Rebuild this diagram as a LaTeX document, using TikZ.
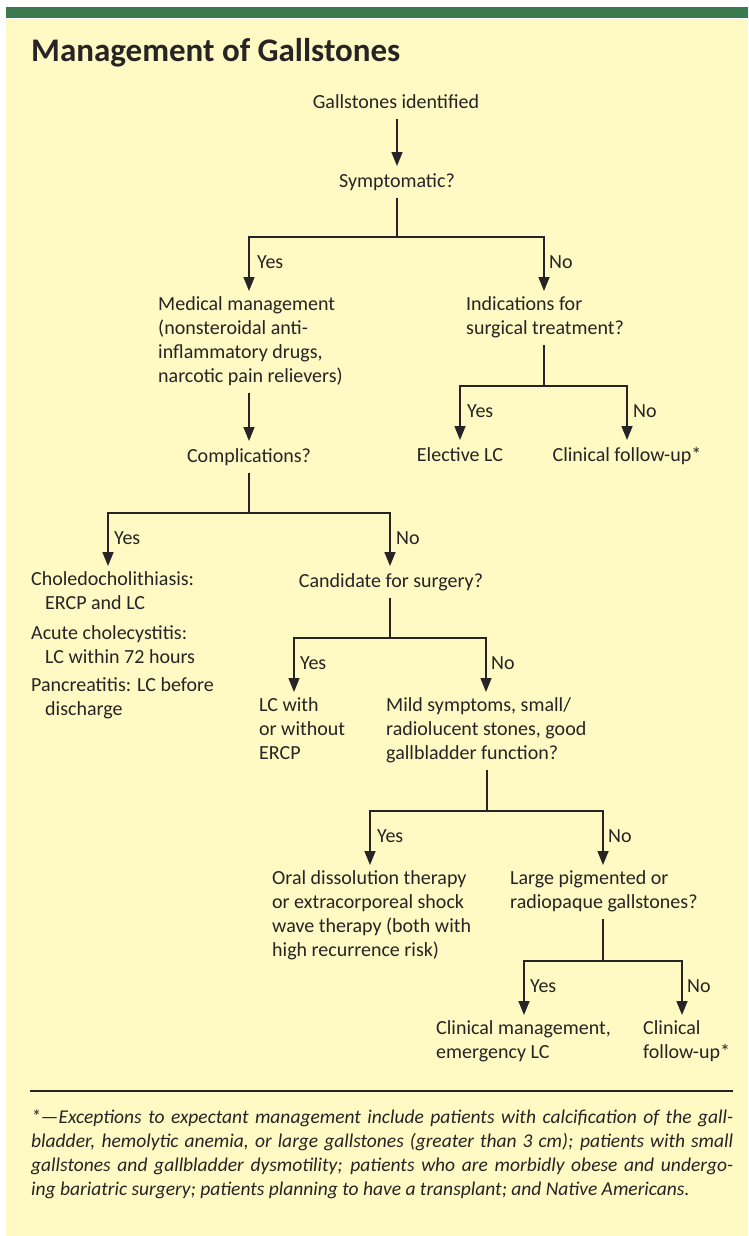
\documentclass[tikz,border=0pt]{standalone}
\usepackage{fontspec}
\setmainfont{Carlito}
\usetikzlibrary{arrows.meta}
\definecolor{bgyellow}{RGB}{255,249,196}
\definecolor{bargreen}{RGB}{59,122,79}
\definecolor{ink}{RGB}{38,36,36}
\newcommand\bodyfont{\fontsize{20pt}{24pt}\selectfont}
\newcommand\notefont{\fontsize{19.5pt}{24pt}\selectfont\itshape}
\newcommand\fixstrut{\rule[-6pt]{0pt}{22pt}}
\tikzset{
  txt/.style={inner xsep=0pt, inner ysep=5pt, align=left, font=\bodyfont, text=ink,
    execute at begin node=\fixstrut, execute at end node=\fixstrut},
  ctxt/.style={txt, align=center, anchor=north},
  ltxt/.style={txt, anchor=north west},
  lbl/.style={inner sep=0pt, font=\bodyfont, text=ink, anchor=base west},
  conn/.style={draw=ink, line width=1.5pt},
  arr/.style={conn, -{Triangle[length=14pt,width=11pt]}},
  note/.style={inner sep=0pt, font=\notefont, text=ink, anchor=base west},
}
\begin{document}
\begin{tikzpicture}[x=1pt,y=-1pt]
\useasboundingbox (0,0) rectangle (748,1236);
\fill[white] (0,0) rectangle (748,1236);
\fill[bgyellow] (6,19) rectangle (748,1236);
\fill[bargreen] (6,7) rectangle (748,18);

\node[inner sep=0pt, anchor=base west, text=ink, font=\fontsize{33pt}{36pt}\selectfont\bfseries] (title) at (31,62) {Management of Gallstones};

% nodes
\node[ctxt] (gi) at (396,87) {Gallstones identified};
\node[ctxt] (symp) at (397,166) {Symptomatic?};
\node[ltxt] (med) at (158,291) {Medical management\\(nonsteroidal anti-\\inflammatory drugs,\\narcotic pain relievers)};
\node[ltxt] (ind) at (466,291) {Indications for\\surgical treatment?};
\node[ctxt] (elec) at (460,440) {Elective LC};
\node[ctxt] (cfu1) at (627,440) {Clinical follow-up*};
\node[ctxt] (compl) at (249,441) {Complications?};
\node[ltxt] (chol) at (31,566) {Choledocholithiasis:\\\hspace*{14pt}ERCP and LC\\[6pt]Acute cholecystitis:\\\hspace*{14pt}LC within 72 hours\\[4pt]Pancreatitis: LC before\\\hspace*{14pt}discharge};
\node[ctxt] (cand) at (391,566) {Candidate for surgery?};
\node[ltxt] (lcw) at (259,692) {LC with\\or without\\ERCP};
\node[ltxt] (mild) at (386,692) {Mild symptoms, small/\\radiolucent stones, good\\gallbladder function?};
\node[ltxt] (oral) at (272,865) {Oral dissolution therapy\\or extracorporeal shock\\wave therapy (both with\\high recurrence risk)};
\node[ltxt] (large) at (510,865) {Large pigmented or\\radiopaque gallstones?};
\node[ltxt] (cmgmt) at (436,1015) {Clinical management,\\emergency LC};
\node[ltxt] (cfu2) at (643,1015) {Clinical\\follow-up*};

% junction coordinates
\coordinate (j1) at (397,237); \coordinate (j1L) at (249,237); \coordinate (j1R) at (544,237);
\coordinate (j2) at (544,386); \coordinate (j2L) at (460,386); \coordinate (j2R) at (627,386);
\coordinate (j3) at (249,513); \coordinate (j3L) at (108,513); \coordinate (j3R) at (390,513);
\coordinate (j4) at (390,638); \coordinate (j4L) at (294,638); \coordinate (j4R) at (486,638);
\coordinate (j5) at (487,811); \coordinate (j5L) at (370,811); \coordinate (j5R) at (603,811);
\coordinate (j6) at (603,961); \coordinate (j6L) at (524,961); \coordinate (j6R) at (682,961);

% connectors
\draw[arr] (gi.south -| symp.north) -- (symp.north);
\draw[arr] (symp.south -| j1) |- (j1L) -- (med.north -| j1L);
\draw[arr] (symp.south -| j1) |- (j1R) -- (ind.north -| j1R);
\draw[arr] (ind.south -| j2) |- (j2L) -- (elec.north -| j2L);
\draw[arr] (ind.south -| j2) |- (j2R) -- (cfu1.north -| j2R);
\draw[arr] (med.south -| compl.north) -- (compl.north);
\draw[arr] (compl.south -| j3) |- (j3L) -- (chol.north -| j3L);
\draw[arr] (compl.south -| j3) |- (j3R) -- (cand.north -| j3R);
\draw[arr] (cand.south -| j4) |- (j4L) -- (lcw.north -| j4L);
\draw[arr] (cand.south -| j4) |- (j4R) -- (mild.north -| j4R);
\draw[arr] (mild.south -| j5) |- (j5L) -- (oral.north -| j5L);
\draw[arr] (mild.south -| j5) |- (j5R) -- (large.north -| j5R);
\draw[arr] (large.south -| j6) |- (j6L) -- (cmgmt.north -| j6L);
\draw[arr] (large.south -| j6) |- (j6R) -- (cfu2.north -| j6R);

% labels
\node[lbl] (y1) at (257,268) {Yes};
\node[lbl] (n1) at (549,268) {No};
\node[lbl] (y2) at (467,417) {Yes};
\node[lbl] (n2) at (633,417) {No};
\node[lbl] (y3) at (114,544) {Yes};
\node[lbl] (n3) at (396,544) {No};
\node[lbl] (y4) at (300,669) {Yes};
\node[lbl] (n4) at (491,669) {No};
\node[lbl] (y5) at (377,842) {Yes};
\node[lbl] (n5) at (608,842) {No};
\node[lbl] (y6) at (530,992) {Yes};
\node[lbl] (n6) at (687,992) {No};

% footnote
\draw[draw=ink, line width=1.2pt] (30,1091) -- (733,1091);
\node[note] (fn1) at (31,1123) {\makebox[702pt][s]{*---Exceptions to expectant management include patients with calcification of the gall-}};
\node[note] (fn2) at (31,1147) {\makebox[702pt][s]{bladder, hemolytic anemia, or large gallstones (greater than 3 cm); patients with small}};
\node[note] (fn3) at (31,1171) {\makebox[702pt][s]{gallstones and gallbladder dysmotility; patients who are morbidly obese and undergo-}};
\node[note] (fn4) at (31,1195) {ing bariatric surgery; patients planning to have a transplant; and Native Americans.};
\end{tikzpicture}
\end{document}
